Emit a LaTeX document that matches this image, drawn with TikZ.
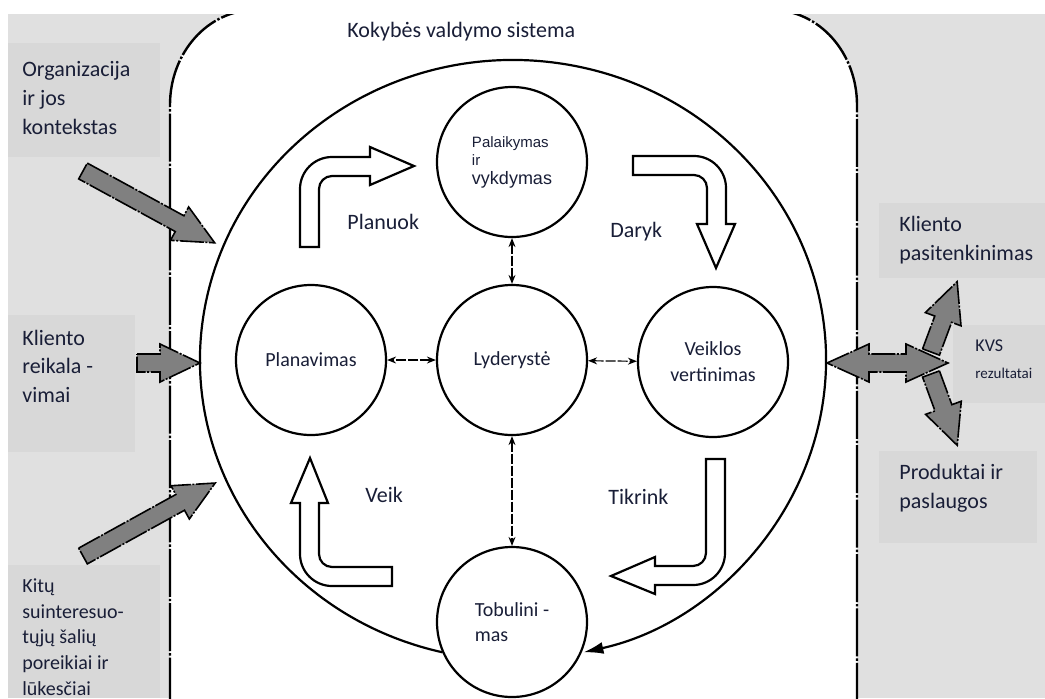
\documentclass[tikz,border=0pt]{standalone}
\usepackage{fontspec}
\setmainfont{Carlito}
\newfontfamily\arialfont{Liberation Sans}
\usetikzlibrary{arrows.meta,calc,positioning}
\definecolor{bgback}{RGB}{224,224,224}
\definecolor{boxgray}{RGB}{216,216,216}
\definecolor{arrowgray}{RGB}{128,128,128}
\definecolor{ink}{RGB}{25,30,55}
% gray block arrow: tail x, tail y, angle, length
\newcommand{\grayarrow}[4]{%
  \draw[grayarrow,shift={(#1,#2)},rotate=#3] (0,-9) -- ({#4-40},-9) -- ({#4-40},-19)
    -- (#4,0) -- ({#4-40},19) -- ({#4-40},9) -- (0,9) -- cycle;}

\begin{document}
\begin{tikzpicture}[x=0.5pt,y=-0.5pt,>=Stealth,
  every node/.style={text=ink},
  sidetext/.style={align=left,inner sep=0pt,anchor=west,font=\fontsize{11}{14.5}\selectfont},
  phase/.style={circle,draw,line width=1.1pt,minimum size=75pt,inner sep=1pt,fill=white,
    font=\fontsize{10}{13}\selectfont},
  steplabel/.style={inner sep=0pt,anchor=west,font=\fontsize{11}{13}\selectfont},
  link/.style={arrows={Stealth[length=4.5pt,width=3.5pt]-Stealth[length=4.5pt,width=3.5pt]},
    line width=0.6pt,dash pattern=on 5pt off 1pt},
  bentarrow/.style={draw,line width=1.1pt,fill=white,line join=miter},
  grayarrow/.style={draw,fill=arrowgray,line width=0.8pt,line join=miter,
    dash pattern=on 12pt off 0.8pt on 1pt off 0.8pt},
  frame/.style={draw,fill=white,line width=1.2pt,dash pattern=on 24pt off 1pt on 1.2pt off 1pt}]
  \useasboundingbox (0,0) rectangle (1045,698);
  \clip (0,0) rectangle (1045,698);

  % background and text boxes
  \fill[bgback] (8,14) rectangle (1045,698);
  \fill[boxgray] (8,43) rectangle (160,157);
  \fill[boxgray] (8,315) rectangle (135,452);
  \fill[boxgray] (8,565) rectangle (160,698);
  \fill[boxgray] (879,203) rectangle (1045,278);
  \fill[boxgray] (953,325) rectangle (1045,403);
  \fill[boxgray] (879,451) rectangle (1037,543);

  % quality system frame
  \draw[frame] (170,760) -- (170,105) arc[start angle=180,end angle=270,x radius=85,y radius=95]
    -- (772,10) arc[start angle=270,end angle=360,x radius=85,y radius=95] -- (857,760);
  \fill[white] (0,0) rectangle (1045,14);
  \node[steplabel] (kvs) at (347,32) {Kokybės valdymo sistema};

  % outside texts
  \node[sidetext] (org) at (22,98) {Organizacija\\ir jos\\kontekstas};
  \node[sidetext,font=\fontsize{11}{14.25}\selectfont] (reik) at (22,366) {Kliento\\reikala -\\vimai};
  \node[sidetext,font=\fontsize{10}{12.9}\selectfont] (kitu) at (22,637)
    {Kitų\\suinteresuo-\\tųjų šalių\\poreikiai ir\\lūkesčiai};
  \node[sidetext] (pasit) at (899,240) {Kliento\\pasitenkinimas};
  \node[sidetext,font=\fontsize{9}{13.5}\selectfont] (rez) at (975,359)
    {KVS\\{\fontsize{7.5}{9}\selectfont rezultatai}};
  \node[sidetext] (prod) at (899,488) {Produktai ir\\paslaugos};

  % inputs and outputs
  \grayarrow{83}{171}{-28.6}{150}
  \grayarrow{137}{363}{0}{63}
  \grayarrow{83}{556}{28.9}{151}
  \grayarrow{931}{352}{69.6}{75}
  \grayarrow{931}{374}{-69.8}{76}
  \draw[grayarrow] (827,363) -- (869,344) -- (869,354) -- (906,354) -- (906,344) -- (948,363)
    -- (906,382) -- (906,372) -- (869,372) -- (869,382) -- cycle;

  % PDCA loop
  \coordinate (ctr) at (513,360);
  \draw[line width=1.1pt,-{Latex[length=10pt,width=6pt]}] (ctr) ++(103:313 and 300)
    arc[start angle=103,end angle=437,x radius=313,y radius=300];

  \node[phase] (lyd) at (512,360) {Lyderystė};
  \node[phase] (plan) at (311,360) {Planavimas};
  \node[phase,align=center] (vert) at (713,362) {Veiklos\\vertinimas};
  \node[phase,align=left,font=\arialfont\fontsize{7.5}{8}\selectfont] (palaik) at (512,162)
    {Palaikymas\\[1pt]ir\\[1.5pt]{\fontsize{9}{9}\selectfont vykdymas}};
  \node[phase,align=left,font=\fontsize{10}{12.5}\selectfont] (tob) at (512,622) {Tobulini -\\mas};

  \draw[link] (palaik) -- (lyd);
  \draw[link] (lyd) -- (plan);
  \draw[link] (lyd) -- (vert);
  \draw[link] (lyd) -- (tob);

  % bent arrows
  \draw[bentarrow] (300,247) -- (300,189) arc[start angle=180,end angle=270,radius=32]
    -- (370,157) -- (370,147) -- (414,166) -- (370,185) -- (370,176) -- (332,176)
    arc[start angle=270,end angle=180,radius=13] -- (319,247) -- cycle;
  \draw[bentarrow] (633,156) -- (694,156) arc[start angle=270,end angle=360,radius=32]
    -- (726,224) -- (735,224) -- (716,268) -- (697,224) -- (707,224) -- (707,188)
    arc[start angle=0,end angle=-90,radius=13] -- (633,175) -- cycle;
  \draw[bentarrow] (706,459) -- (725,459) -- (725,553) arc[start angle=0,end angle=90,radius=32]
    -- (655,585) -- (655,594) -- (611,576) -- (655,557) -- (655,566) -- (693,566)
    arc[start angle=90,end angle=0,radius=13] -- cycle;
  \draw[bentarrow] (392,567) -- (392,586) -- (332,586) arc[start angle=90,end angle=180,radius=32]
    -- (300,503) -- (291,503) -- (310,458) -- (328,503) -- (319,503) -- (319,554)
    arc[start angle=180,end angle=90,radius=13] -- cycle;

  \node[steplabel] (planuok) at (347,222) {Planuok};
  \node[steplabel] (daryk) at (610,232) {Daryk};
  \node[steplabel] (veik) at (365,495) {Veik};
  \node[steplabel] (tikrink) at (608,497) {Tikrink};
\end{tikzpicture}
\end{document}
